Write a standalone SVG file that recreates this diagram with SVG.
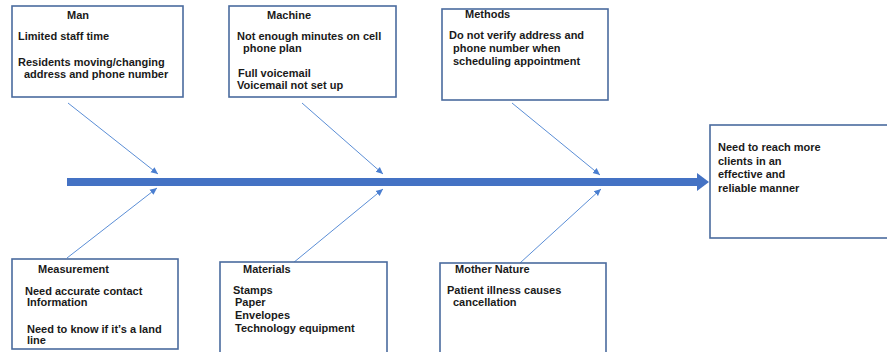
<svg xmlns="http://www.w3.org/2000/svg" width="887" height="352" viewBox="0 0 887 352">
<style>
.box{fill:#fff;stroke:#4A6B9E;stroke-width:1.6}
.t{font-family:"Liberation Sans",Arial,sans-serif;font-size:11px;font-weight:bold;fill:#1a1a1a}
.bone{stroke:#5B8ED6;stroke-width:1;fill:none}
.spine{fill:#4472C4}
</style>
<defs>
<marker id="ah" markerWidth="8" markerHeight="8" refX="7" refY="4" orient="auto" markerUnits="userSpaceOnUse">
<path d="M0,0.8 L7,4 L0,7.2 Z" fill="#4A7ED0"/>
</marker>
</defs>
<rect width="887" height="352" fill="#fff"/>
<g id="connectors">
<rect class="spine" x="67" y="178" width="633" height="8"/>
<polygon class="spine" points="697,173 709,182 697,191"/>
<line class="bone" x1="68" y1="103" x2="158" y2="174" marker-end="url(#ah)"/>
<line class="bone" x1="302" y1="103" x2="383" y2="174" marker-end="url(#ah)"/>
<line class="bone" x1="512" y1="103" x2="600" y2="175" marker-end="url(#ah)"/>
<line class="bone" x1="67" y1="258" x2="157" y2="188" marker-end="url(#ah)"/>
<line class="bone" x1="293" y1="263" x2="383" y2="189" marker-end="url(#ah)"/>
<line class="bone" x1="520" y1="263" x2="601" y2="189" marker-end="url(#ah)"/>
</g>
<g id="man">
<rect class="box" x="12" y="6" width="171" height="91"/>
<text class="t" x="78" y="19" text-anchor="middle">Man</text>
<text class="t" x="18" y="40">Limited staff time</text>
<text class="t" x="18" y="66">Residents moving/changing</text>
<text class="t" x="24" y="78">address and phone number</text>
</g>
<g id="machine">
<rect class="box" x="229" y="6" width="167" height="91"/>
<text class="t" x="267" y="19">Machine</text>
<text class="t" x="237" y="40">Not enough minutes on cell</text>
<text class="t" x="243" y="52">phone plan</text>
<text class="t" x="238" y="77">Full voicemail</text>
<text class="t" x="237" y="89">Voicemail not set up</text>
</g>
<g id="methods">
<rect class="box" x="442" y="9" width="166" height="91"/>
<text class="t" x="465" y="18">Methods</text>
<text class="t" x="449" y="39">Do not verify address and</text>
<text class="t" x="453" y="52">phone number when</text>
<text class="t" x="453" y="65">scheduling appointment</text>
</g>
<g id="effect">
<rect class="box" x="710" y="125" width="180" height="113"/>
<text class="t" x="718" y="151">Need to reach more</text>
<text class="t" x="718" y="165">clients in an</text>
<text class="t" x="718" y="178">effective and</text>
<text class="t" x="718" y="192">reliable manner</text>
</g>
<g id="measurement">
<rect class="box" x="12" y="259" width="166" height="90"/>
<text class="t" x="38" y="273">Measurement</text>
<text class="t" x="25" y="295">Need accurate contact</text>
<text class="t" x="27" y="306">Information</text>
<text class="t" x="27" y="333">Need to know if it’s a land</text>
<text class="t" x="27" y="344">line</text>
</g>
<g id="materials">
<rect class="box" x="220" y="262" width="167" height="92"/>
<text class="t" x="243" y="273">Materials</text>
<text class="t" x="233" y="294">Stamps</text>
<text class="t" x="235" y="306">Paper</text>
<text class="t" x="235" y="319">Envelopes</text>
<text class="t" x="235" y="332">Technology equipment</text>
</g>
<g id="mother-nature">
<rect class="box" x="440" y="263" width="166" height="92"/>
<text class="t" x="455" y="273">Mother Nature</text>
<text class="t" x="447" y="294">Patient illness causes</text>
<text class="t" x="453" y="306">cancellation</text>
</g>
</svg>
